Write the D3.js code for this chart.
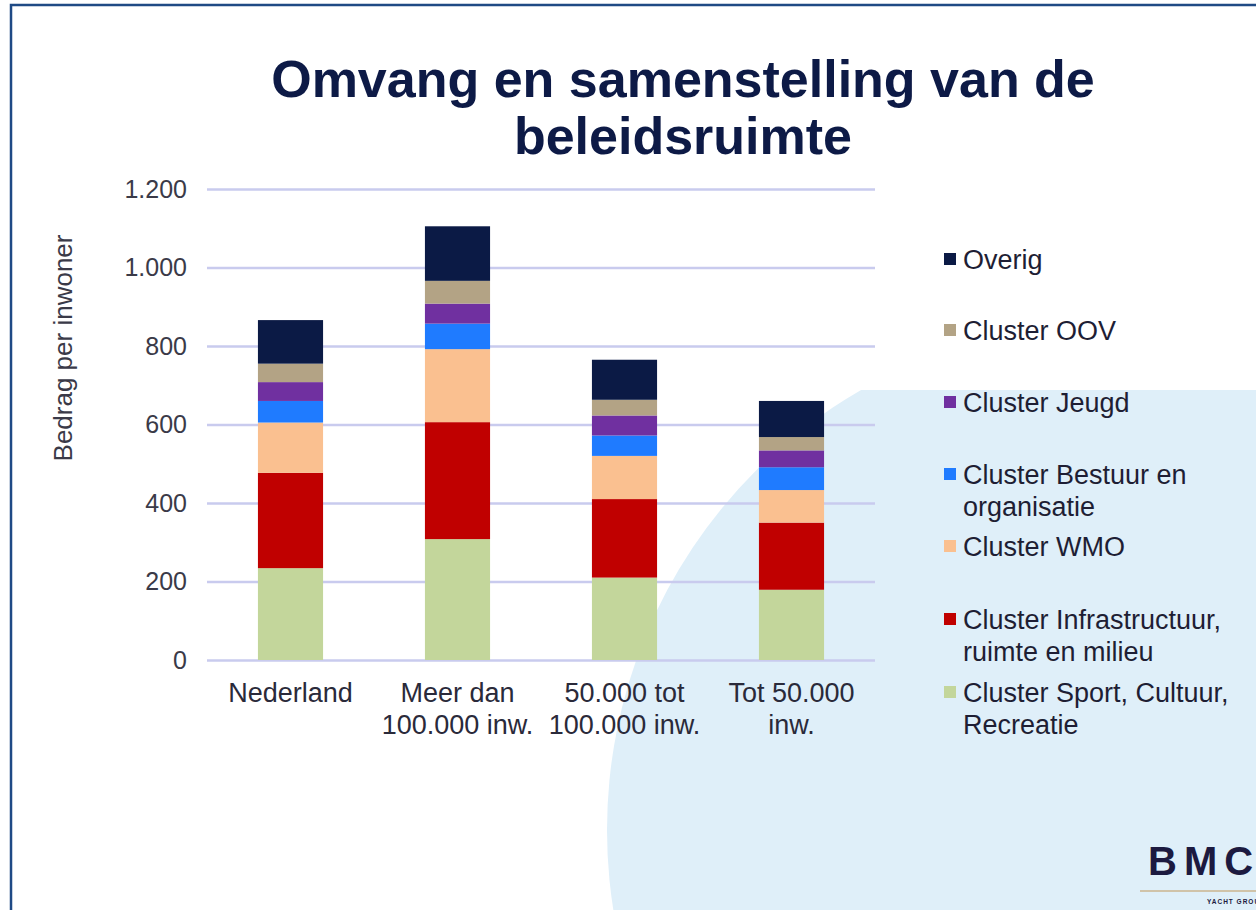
<!DOCTYPE html>
<meta charset="utf-8">
<style>
body { margin: 0; background: #fff; font-family: Arial, 'Liberation Sans', sans-serif; }
svg text { font-family: Arial, 'Liberation Sans', sans-serif; }
.grid line { stroke: #c9cbee; stroke-width: 2.5; }
.grid .domain { display: none; }
</style>
<svg id="slide" width="1256" height="910"></svg>
<script src="https://cdn.jsdelivr.net/npm/d3@7"></script>
<script>

// categories and series (bedrag per inwoner)
var categories = [
  ["Nederland"],
  ["Meer dan", "100.000 inw."],
  ["50.000 tot", "100.000 inw."],
  ["Tot 50.000", "inw."]
];
var series = [
  "Cluster Sport, Cultuur, Recreatie",
  "Cluster Infrastructuur, ruimte en milieu",
  "Cluster WMO",
  "Cluster Bestuur en organisatie",
  "Cluster Jeugd",
  "Cluster OOV",
  "Overig"
];
var sport   = [234, 308, 210, 179];
var infra   = [243, 298, 200, 171];
var wmo     = [128, 186, 110, 83];
var bestuur = [55, 65, 52, 58];
var jeugd   = [48, 51, 51, 43];
var oov     = [47, 58, 40, 34];
var overig  = [111, 139, 102, 92];
var yTicks = [0, 200, 400, 600, 800, 1000, 1200];

var colors = ["#c3d69b", "#c00000", "#fac090", "#1f7bff", "#7030a0", "#b3a385", "#0b1a45"];

// legend rows, top to bottom (reverse of stack order)
var legendRows = [
  {s: 6, lines: ["Overig"], y: 260},
  {s: 5, lines: ["Cluster OOV"], y: 331},
  {s: 4, lines: ["Cluster Jeugd"], y: 403},
  {s: 3, lines: ["Cluster Bestuur en", "organisatie"], y: 475},
  {s: 2, lines: ["Cluster WMO"], y: 547},
  {s: 1, lines: ["Cluster Infrastructuur,", "ruimte en milieu"], y: 620},
  {s: 0, lines: ["Cluster Sport, Cultuur,", "Recreatie"], y: 693}
];

var svg = d3.select("#slide");

// background decoration
var clip = svg.append("clipPath").attr("id", "below");
clip.append("rect").attr("x", 0).attr("y", 390).attr("width", 1256).attr("height", 520);
svg.append("circle")
  .attr("cx", 1115).attr("cy", 830).attr("r", 508)
  .attr("fill", "#dfeff9")
  .attr("clip-path", "url(#below)");

// slide frame
svg.append("path")
  .attr("d", "M11,910 V5 H1256")
  .attr("fill", "none")
  .attr("stroke", "#1f4a85")
  .attr("stroke-width", 2.5);

// title
var title = svg.append("text")
  .attr("text-anchor", "middle")
  .attr("fill", "#0d1a46")
  .attr("font-size", 52)
  .attr("font-weight", "bold");
title.append("tspan").attr("x", 683).attr("y", 97).text("Omvang en samenstelling van de");
title.append("tspan").attr("x", 683).attr("y", 154).text("beleidsruimte");

var margin = {left: 207, right: 875, top: 189, bottom: 660};

var x = d3.scaleBand()
  .domain(d3.range(categories.length))
  .range([margin.left, margin.right])
  .paddingInner(0.61)
  .paddingOuter(0.305);

var y = d3.scaleLinear()
  .domain([0, 1200])
  .range([margin.bottom, margin.top]);

// gridlines
svg.append("g")
  .attr("class", "grid")
  .attr("transform", "translate(" + margin.left + ",0)")
  .call(d3.axisLeft(y).tickValues(yTicks).tickSize(-(margin.right - margin.left)).tickFormat(""));

// y tick labels
var fmt = d3.formatLocale({decimal: ",", thousands: ".", grouping: [3], currency: ["", ""]}).format(",");
svg.append("g").selectAll("text")
  .data(yTicks)
  .enter().append("text")
    .attr("x", 187)
    .attr("y", function(d) { return y(d); })
    .attr("dy", "0.35em")
    .attr("text-anchor", "end")
    .attr("font-size", 25)
    .attr("fill", "#3a3a48")
    .text(function(d) { return fmt(d); });

// y axis title
svg.append("text")
  .attr("transform", "translate(72,348) rotate(-90)")
  .attr("text-anchor", "middle")
  .attr("font-size", 26)
  .attr("fill", "#3a3a48")
  .text("Bedrag per inwoner");

// stacked bars
var table = categories.map(function(c, i) {
  return {i: i, s0: sport[i], s1: infra[i], s2: wmo[i], s3: bestuur[i], s4: jeugd[i], s5: oov[i], s6: overig[i]};
});
var stack = d3.stack().keys(["s0", "s1", "s2", "s3", "s4", "s5", "s6"]);
var layers = stack(table);

svg.append("g").selectAll("g")
  .data(layers)
  .enter().append("g")
    .attr("fill", function(d, k) { return colors[k]; })
  .selectAll("rect")
  .data(function(d) { return d; })
  .enter().append("rect")
    .attr("x", function(d) { return x(d.data.i); })
    .attr("width", x.bandwidth())
    .attr("y", function(d) { return y(d[1]); })
    .attr("height", function(d) { return y(d[0]) - y(d[1]); });

// x labels
var xl = svg.append("g").selectAll("text")
  .data(categories)
  .enter().append("text")
    .attr("text-anchor", "middle")
    .attr("font-size", 27)
    .attr("fill", "#2a2a3a");
xl.each(function(d, i) {
  var t = d3.select(this);
  d.forEach(function(line, j) {
    t.append("tspan")
      .attr("x", x(i) + x.bandwidth() / 2)
      .attr("y", 702 + j * 32)
      .text(line);
  });
});

// legend
var lg = svg.append("g").selectAll("g")
  .data(legendRows)
  .enter().append("g");
lg.append("rect")
  .attr("x", 944)
  .attr("y", function(d) { return d.y - 7; })
  .attr("width", 12).attr("height", 12)
  .attr("fill", function(d) { return colors[d.s]; });
lg.each(function(d) {
  var t = d3.select(this).append("text")
    .attr("font-size", 27)
    .attr("fill", "#1e1e34");
  d.lines.forEach(function(line, j) {
    t.append("tspan").attr("x", 963).attr("y", d.y + 9 + j * 32).text(line);
  });
});

// logo
svg.append("text")
  .attr("x", 1148).attr("y", 875)
  .attr("font-size", 40)
  .attr("font-weight", "bold")
  .attr("letter-spacing", 7)
  .attr("fill", "#1c1a40")
  .text("BMC");
svg.append("line")
  .attr("x1", 1140).attr("x2", 1256).attr("y1", 891).attr("y2", 891)
  .attr("stroke", "#cbb58e").attr("stroke-width", 1.5);
svg.append("text")
  .attr("x", 1207).attr("y", 904)
  .attr("font-size", 6.5)
  .attr("font-weight", "bold")
  .attr("letter-spacing", 1)
  .attr("fill", "#1c1a40")
  .text("YACHT GROUP");

</script>
